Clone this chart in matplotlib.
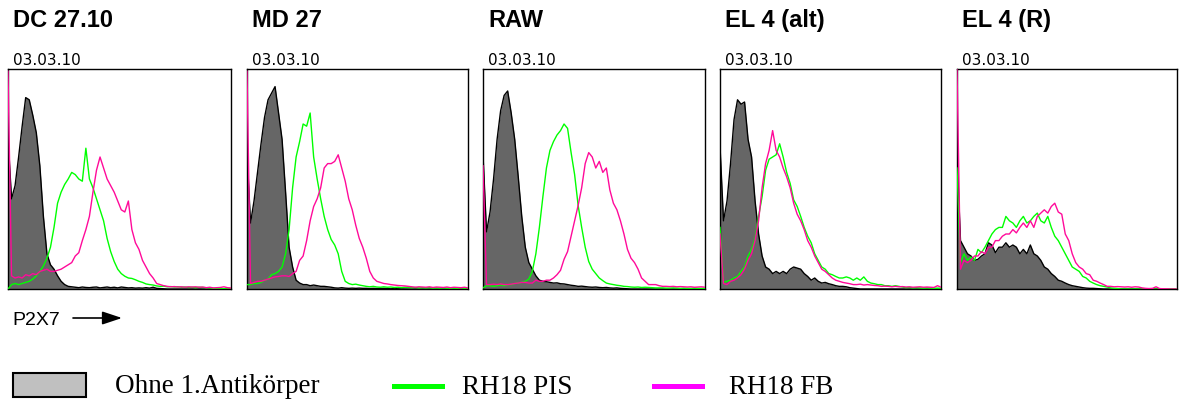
import numpy as np
import matplotlib.pyplot as plt
from matplotlib.patches import Rectangle
from matplotlib.lines import Line2D

# Kanaele (FL-Kanal, jeder 4. Kanal)
kanal = np.arange(0, 256, 4)

titel = ['DC 27.10', 'MD 27', 'RAW', 'EL 4 (alt)', 'EL 4 (R)']
datum = '03.03.10'

# Ohne 1. Antikoerper (grau gefuellt)
dc_ohne = [69, 41, 47, 60, 74, 87, 86, 79,
           71, 56, 33, 16, 11, 9, 6, 3.5,
           2, 1.2, 1, 0.8, 0.6, 0.9, 0.7, 0.6,
           0.8, 0.9, 0.5, 0.7, 0.9, 0.6, 0.8, 0.5,
           0.9, 0.7, 0.5, 0.6, 0.4, 0.5, 0.4, 0.6,
           0.4, 0.8, 0.3, 0.2, 0.1, 0, 0, 0,
           0, 0, 0, 0, 0, 0, 0, 0,
           0, 0, 0, 0, 0, 0, 0, 0]
md_ohne = [62, 30, 40, 53, 66, 78, 86, 89,
           92, 80, 68, 44, 19, 10, 4, 2.7,
           2, 2, 1.5, 1.8, 1.5, 1.2, 1.2, 1,
           0.8, 0.5, 0.4, 0.6, 0.4, 0.3, 0.4, 0.3,
           0.4, 0.3, 0.3, 0.2, 0.3, 0.2, 0.2, 0.3,
           0.2, 0.1, 0.2, 0.1, 0.1, 0, 0, 0,
           0, 0, 0, 0, 0, 0, 0, 0,
           0, 0, 0, 0, 0, 0, 0, 0]
raw_ohne = [61, 26, 35, 50, 68, 81, 88, 90,
            80, 68, 51, 33, 19, 12, 9, 6,
            4, 3.5, 3.3, 3, 2.7, 2.8, 2.4, 2.3,
            2, 1.7, 1.5, 1.2, 1.3, 1.1, 0.9, 0.8,
            0.9, 0.7, 0.6, 0.7, 0.5, 0.4, 0.5, 0.3,
            0.2, 0.1, 0, 0, 0, 0, 0, 0,
            0, 0, 0, 0, 0, 0, 0, 0,
            0, 0, 0, 0, 0, 0, 0, 0]
el4alt_ohne = [65, 31, 40, 57, 77, 86, 84, 85,
               68, 60, 40, 25, 15, 10, 9, 7,
               8, 7, 8, 7, 9, 10, 9.5, 9,
               7, 5.7, 4, 5, 3.5, 2.7, 3, 2.4,
               2, 1.5, 1.2, 1.2, 1, 0.6, 0.4, 0.2,
               0, 0, 0, 0, 0, 0, 0, 0,
               0, 0, 0, 0, 0, 0, 0, 0,
               0, 0, 0, 0, 0, 0, 0, 0]
el4r_ohne = [61, 22, 19, 16, 15, 13, 13.5, 15,
             16, 21, 20, 16.5, 19, 19, 21, 19,
             20, 19, 16, 18, 16, 20, 16, 15,
             13, 10, 9, 7, 5.7, 4, 3.5, 2.7,
             2, 1.5, 1.2, 0.9, 0.6, 0.4, 0.3, 0.3,
             0.2, 0.1, 0, 0, 0, 0, 0, 0,
             0, 0, 0, 0, 0, 0, 0, 0,
             0, 0, 0, 0, 0, 0, 0, 0]

# RH18 PIS (gruen)
dc_pis = [0, 2, 2.5, 2, 2.5, 3, 3.5, 4.5,
          6, 8, 10.5, 14, 19, 28, 39, 44,
          47.5, 50, 53, 52, 50, 49, 64, 50,
          46, 41, 36, 31, 23, 17, 12.5, 9,
          7, 5.8, 5, 4.8, 4.2, 3.5, 3, 2.3,
          2, 1.8, 1.4, 1.2, 1.3, 1, 1.1, 0.9,
          1, 0.8, 0.9, 0.7, 0.8, 0.6, 0.8, 0.7,
          0.6, 0.5, 0.3, 0.2, 0.2, 0.1, 0.1, 0]
md_pis = [2, 2, 2.5, 2.5, 3, 4, 4.5, 6.5,
          7, 8, 10, 16, 27, 46, 60, 67,
          75, 74, 80, 60, 50, 41, 33, 27,
          22.5, 20, 16, 8, 3.5, 2.5, 2, 2.2,
          1.8, 1.5, 1.2, 1, 1.2, 0.9, 0.8, 1,
          0.8, 0.9, 0.7, 0.8, 0.6, 0.8, 0.7, 0.6,
          0.7, 0.5, 0.6, 0.5, 0.6, 0.4, 0.5, 0.4,
          0.5, 0.4, 0.3, 0.4, 0.3, 0.5, 0.3, 0.5]
raw_pis = [0.5, 1.5, 1.5, 1.2, 1.5, 1.8, 1.5, 2,
           2, 2.5, 2.7, 3, 3.5, 4.5, 8, 16,
           28, 42, 55, 63, 67, 70, 72, 75,
           73, 62, 52, 38, 28, 19, 12.5, 9,
           7, 5, 3.8, 2.7, 2.3, 2, 1.7, 1.5,
           1.2, 1.1, 0.9, 0.8, 0.9, 0.7, 0.8, 0.7,
           0.6, 0.5, 0.5, 0.5, 0.4, 0.4, 0.5, 0.4,
           0.3, 0.4, 0.3, 0.3, 0.4, 0.3, 0.3, 0.3]
el4alt_pis = [28, 3, 3.5, 4, 5, 5.7, 8, 10,
              15, 18, 23, 33, 42, 54, 59, 60,
              61, 66, 60, 53, 48, 40.5, 37.5, 33,
              28, 24, 21, 16, 13, 10, 9, 7,
              6.5, 5.7, 5, 5, 5.5, 5, 4, 5,
              4, 5.5, 3.5, 2.7, 2.4, 2, 2, 1.5,
              1.5, 1.2, 1.5, 1.2, 0.9, 0.6, 0.7, 0.5,
              0.6, 0.5, 0.4, 0.5, 0.4, 0.3, 0.4, 0.3]
el4r_pis = [55, 12, 16, 13, 14.5, 13, 18, 16.5,
            19, 22, 25, 27, 28, 28, 33, 31,
            30, 28, 31, 33, 30, 31, 33, 34.5,
            31, 30, 33, 28, 24, 22, 19, 16,
            13, 10, 9, 8, 5.7, 5, 3.5, 2.7,
            2, 1.5, 1.2, 0.9, 0.5, 0.3, 0.2, 0,
            0, 0, 0, 0, 0, 0, 0, 0,
            0, 0, 0, 0, 0, 0, 0, 0]

# RH18 FB (magenta)
dc_fb = [99, 6, 5, 5.5, 5, 6.5, 6, 7,
         6.5, 8, 8.5, 9, 8, 8, 8.5, 9,
         10, 11, 12, 15, 16.5, 22, 27, 33,
         44, 54, 60, 55, 50, 47, 44, 40,
         36, 35, 40, 27, 21, 18, 13, 10,
         7, 5, 2.5, 2, 1.5, 1.2, 1, 1.1,
         0.9, 1, 0.8, 1, 0.9, 1, 0.8, 0.9,
         0.6, 0.8, 0.5, 0.6, 0.7, 1, 0.6, 0.5]
md_fb = [99, 2.5, 3, 3.5, 3.5, 4, 4.5, 5,
         5.5, 5.7, 6, 6, 5.7, 7, 8, 13,
         15, 22, 31, 37.5, 41, 46, 55, 57,
         57, 58, 61, 55, 49, 41, 36, 29,
         23, 19, 14, 8, 5, 3.5, 3, 2.5,
         2.3, 2, 1.8, 1.6, 1.5, 1.4, 1.2, 1,
         0.8, 1, 0.9, 0.8, 1, 0.7, 0.9, 0.8,
         0.7, 0.9, 0.6, 0.8, 0.7, 0.6, 0.8, 0.5]
raw_fb = [56, 2, 2, 2.2, 2, 2.3, 2, 2,
          2.2, 2.5, 2.7, 3, 3, 2.7, 2.7, 4,
          3.5, 3.5, 4, 4, 5, 6.5, 8.5, 13.5,
          17, 24, 31, 38, 46, 57, 62, 60,
          55, 58, 53, 55, 45, 39, 36, 31,
          25, 18, 14, 12, 9, 5, 3.5, 2,
          2, 2, 1.5, 1.2, 1.2, 1.1, 1.2, 1,
          1.1, 1, 0.9, 1, 0.8, 0.9, 1, 0.8]
el4alt_fb = [25, 2.5, 2, 3.5, 4, 5, 6.5, 9,
             13, 16, 22, 31, 46, 57, 63, 72,
             63, 60, 55, 51, 46, 39, 34, 31,
             27, 22, 19, 15, 12, 9, 8, 6.5,
             5, 4, 3.5, 3, 2.7, 2.4, 2, 2,
             2.2, 1.8, 2, 1.8, 1.6, 1.5, 1.2, 1.3,
             1.2, 1, 1.2, 1, 1.1, 0.9, 1, 0.8,
             0.9, 1, 0.8, 0.9, 0.8, 0.7, 1.5, 0.8]
el4r_fb = [100, 9, 13, 12, 13, 15, 15, 17,
           16, 19, 19, 22, 22, 24, 25, 25,
           27, 25.5, 28, 30, 28, 31, 28, 33,
           34.5, 36, 34.5, 37.5, 39, 35, 34, 25,
           22, 16, 12, 10, 9, 7, 6.5, 4,
           3.5, 2.7, 2, 1.2, 1.2, 1, 1.1, 1,
           0.9, 1, 0.8, 1, 0.9, 0.5, 0.3, 0.2,
           0.3, 1, 0.2, 0.1, 0.1, 0, 0, 0]

ohne = [dc_ohne, md_ohne, raw_ohne, el4alt_ohne, el4r_ohne]
pis = [dc_pis, md_pis, raw_pis, el4alt_pis, el4r_pis]
fb = [dc_fb, md_fb, raw_fb, el4alt_fb, el4r_fb]

W, H = 1181, 400
links = [8, 247, 483, 720, 957]
breite = [223, 221, 222, 221, 220]
oben, unten = 69, 289

grau = '#666666'
gruen = '#00ff00'
pink = '#ff0a9a'

fig = plt.figure(figsize=(W / 100, H / 100), dpi=100)

for i in range(5):
    ax = fig.add_axes([links[i] / W, (H - unten) / H, breite[i] / W, (unten - oben) / H])
    ax.fill_between(kanal, ohne[i], color=grau, lw=0, zorder=1)
    ax.plot(kanal, ohne[i], color='black', lw=1, zorder=2)
    ax.plot(kanal, pis[i], color=gruen, lw=1, zorder=3)
    ax.plot(kanal, fb[i], color=pink, lw=1, zorder=4)
    ax.set_xlim(0, 252)
    ax.set_ylim(0, 100)
    ax.set_xticks([])
    ax.set_yticks([])
    for s in ax.spines.values():
        s.set_linewidth(1)

    fig.text((links[i] + 5) / W, 1 - 27 / H, titel[i], fontsize=17, fontweight='bold',
             family='Liberation Sans', va='baseline')
    fig.text((links[i] + 5) / W, 1 - 65 / H, datum, fontsize=11, va='baseline')

# Achsenbeschriftung mit Pfeil
fig.text(12 / W, 1 - 325 / H, 'P2X7', fontsize=14, family='Liberation Sans', va='baseline')
plt.annotate('', xy=(122 / W, 1 - 318 / H), xytext=(73 / W, 1 - 318 / H),
             xycoords='figure fraction', textcoords='figure fraction',
             arrowprops=dict(arrowstyle='-|>,head_length=0.6,head_width=0.2',
                             color='black', lw=1.2, mutation_scale=20,
                             shrinkA=0, shrinkB=0))

# Legende
fig.add_artist(Rectangle((13 / W, 1 - 397 / H), 73 / W, 24 / H, facecolor='#c0c0c0',
                         edgecolor='black', lw=1.5, transform=fig.transFigure))
fig.text(115 / W, 1 - 393 / H, 'Ohne 1.Antikörper', fontsize=19.5,
         family='Liberation Serif', va='baseline')
fig.add_artist(Line2D([394 / W, 442 / W], [1 - 385.5 / H] * 2, color=gruen, lw=3.6,
                      transform=fig.transFigure))
fig.text(462 / W, 1 - 394 / H, 'RH18 PIS', fontsize=19.5, family='Liberation Serif',
         va='baseline')
fig.add_artist(Line2D([654 / W, 702 / W], [1 - 385.5 / H] * 2, color='#ff00ff', lw=3.6,
                      transform=fig.transFigure))
fig.text(729 / W, 1 - 394 / H, 'RH18 FB', fontsize=19.5, family='Liberation Serif',
         va='baseline')

plt.savefig('out.png', dpi=100)
